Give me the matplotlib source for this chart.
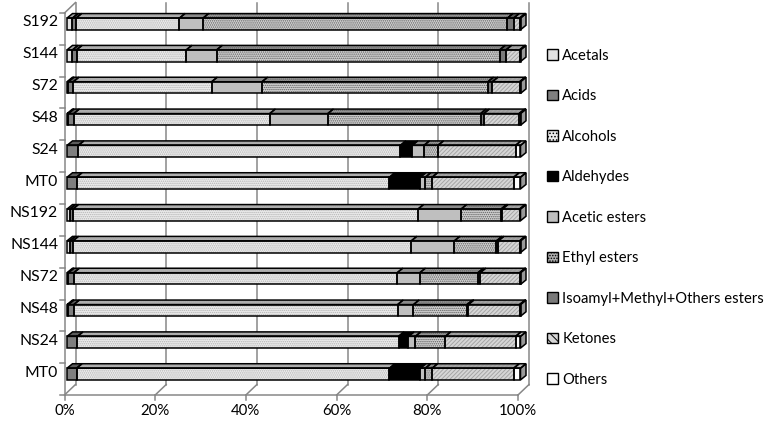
import matplotlib
matplotlib.use("Agg")
import matplotlib.pyplot as plt
from matplotlib.patches import Polygon, Patch
import numpy as np

plt.rcParams['font.family'] = ['Lato', 'DejaVu Sans']
plt.rcParams['hatch.linewidth'] = 0.7

# ---- data (bottom row first) ----
categories = ['MT0', 'NS24', 'NS48', 'NS72', 'NS144', 'NS192',
              'MT0', 'S24', 'S48', 'S72', 'S144', 'S192']
series_names = ['Acetals', 'Acids', 'Alcohols', 'Aldehydes', 'Acetic esters',
                'Ethyl esters', 'Isoamyl+Methyl+Others esters', 'Ketones', 'Others']
acetals      = [0.0, 0.0, 0.3, 0.3, 0.6, 0.6, 0.0, 0.0, 0.3, 0.3, 1.2, 1.2]
acids        = [2.1, 2.3, 1.2, 1.2, 0.7, 0.7, 2.1, 2.5, 1.2, 1.1, 0.9, 0.8]
alcohols     = [69.0, 70.8, 71.4, 71.3, 74.6, 76.1, 69.0, 71.0, 43.2, 30.5, 24.2, 22.8]
aldehydes    = [6.8, 2.2, 0.0, 0.0, 0.0, 0.0, 6.8, 2.6, 0.0, 0.0, 0.0, 0.0]
acetic_est   = [1.1, 1.5, 3.5, 5.0, 9.5, 9.5, 1.1, 2.6, 12.8, 11.1, 6.7, 5.2]
ethyl_est    = [1.5, 6.6, 11.8, 12.8, 9.3, 8.8, 1.5, 3.1, 33.7, 49.8, 62.4, 67.1]
isoamyl_est  = [0.0, 0.0, 0.3, 0.5, 0.4, 0.3, 0.0, 0.0, 0.7, 1.0, 1.4, 1.4]
ketones      = [18.0, 15.5, 11.3, 8.7, 4.7, 3.8, 18.0, 17.1, 7.8, 6.0, 3.0, 1.3]
others       = [1.5, 1.1, 0.2, 0.2, 0.2, 0.2, 1.5, 1.1, 0.3, 0.2, 0.2, 0.2]
xticks = [0, 20, 40, 60, 80, 100]
xticklabels = ['0%', '20%', '40%', '60%', '80%', '100%']

series = [acetals, acids, alcohols, aldehydes, acetic_est,
          ethyl_est, isoamyl_est, ketones, others]

styles = [
    dict(fc='#e2e2e2', hatch=None, hc=None),
    dict(fc='#7f7f7f', hatch=None, hc=None),
    dict(fc='#ececec', hatch='........', hc='#b4b4b4'),
    dict(fc='#000000', hatch=None, hc=None),
    dict(fc='#bfbfbf', hatch=None, hc=None),
    dict(fc='#d2d2d2', hatch='........', hc='#5e5e5e'),
    dict(fc='#7a7a7a', hatch=None, hc=None),
    dict(fc='#d6d6d6', hatch='////////', hc='#a6a6a6'),
    dict(fc='#ffffff', hatch=None, hc=None),
]
legend_hatch = [None, None, '.....', None, None, '......', None, '\\\\\\\\', None]
legend_fc = ['#e2e2e2', '#7f7f7f', '#ececec', '#000000', '#bfbfbf',
             '#b0b0b0', '#7a7a7a', '#d6d6d6', '#ffffff']

W, H = 767, 423
fig = plt.figure(figsize=(W / 100, H / 100), dpi=100)
x0p, x1p = 64.5, 518.0
ytop, ybot = 13.0, 395.0
ax = fig.add_axes([x0p / W, (H - ybot) / H, (x1p - x0p) / W, (ybot - ytop) / H])
ax.set_xlim(0, 100)
ax.set_ylim(-0.5, len(categories) - 0.5)
ax.axis('off')

pxx = (x1p - x0p) / 100.0
pxy = (ybot - ytop) / len(categories)
def dxp(p): return p / pxx
def dyp(p): return p / pxy

DXw, DYw = dxp(11.0), dyp(10.5)
grid_c = '#878787'
ymin, ymax = -0.5, len(categories) - 0.5

# back gridlines / walls
for v, lab in zip(xticks, xticklabels):
    ax.plot([v + DXw, v + DXw], [ymin + DYw, ymax + DYw], color=grid_c, lw=1.1, clip_on=False, zorder=1)
    ax.plot([v, v + DXw], [ymin, ymin + DYw], color=grid_c, lw=1.1, clip_on=False, zorder=1)
    ax.plot([v, v], [ymin, ymin - dyp(5)], color=grid_c, lw=1.1, clip_on=False, zorder=1)
    ax.text(v, ymin - dyp(16), lab, ha='center', va='center', fontsize=10.8)
ax.plot([0, 100], [ymin, ymin], color=grid_c, lw=1.1, clip_on=False, zorder=1)
ax.plot([0, 0], [ymin, ymax], color=grid_c, lw=1.1, clip_on=False, zorder=1)
ax.plot([0, DXw], [ymax, ymax + DYw], color=grid_c, lw=1.1, clip_on=False, zorder=1)
for k in range(len(categories) + 1):
    b = k - 0.5
    ax.plot([0, -dxp(5)], [b, b], color=grid_c, lw=1.1, clip_on=False, zorder=1)

for i, c in enumerate(categories):
    ax.text(-dxp(6.5), i + dyp(6.5), c, ha='right', va='center', fontsize=11.3)

# bars
ox, oy = dxp(2.5), dyp(5.0)
hh = dyp(5.85)
dxb, dyb = dxp(5.5), dyp(4.5)

def darker(col, f):
    r, g, b, a = matplotlib.colors.to_rgba(col)
    return (r * f, g * f, b * f, a)

def draw_poly(verts, st, shade=1.0):
    fc = st['fc'] if shade == 1.0 else darker(st['fc'], shade)
    if st['hatch']:
        ax.add_patch(Polygon(verts, closed=True, facecolor=fc, edgecolor=st['hc'],
                             hatch=st['hatch'], lw=0, clip_on=False, zorder=3))
    else:
        ax.add_patch(Polygon(verts, closed=True, facecolor=fc, edgecolor='none',
                             lw=0, clip_on=False, zorder=3))
    ax.add_patch(Polygon(verts, closed=True, fill=False, edgecolor='black',
                         lw=1.1, clip_on=False, zorder=4))

for i in range(len(categories)):
    yc = i + oy
    left = 0.0
    last = None
    for s, st in zip(series, styles):
        v = s[i]
        if v <= 0:
            continue
        a, b = left + ox, left + v + ox
        top = [(a, yc + hh), (b, yc + hh), (b + dxb, yc + hh + dyb), (a + dxb, yc + hh + dyb)]
        draw_poly(top, st, 0.72)
        front = [(a, yc - hh), (b, yc - hh), (b, yc + hh), (a, yc + hh)]
        draw_poly(front, st)
        left += v
        last = (b, st)
    b, st = last
    side = [(b, yc - hh), (b + dxb, yc - hh + dyb), (b + dxb, yc + hh + dyb), (b, yc + hh)]
    draw_poly(side, st, 0.6)

# legend
handles = [Patch(facecolor=fc, edgecolor='black', hatch=lh, lw=1.0)
           for fc, lh in zip(legend_fc, legend_hatch)]
leg = fig.legend(handles, series_names, loc='center left', bbox_to_anchor=(547 / W, 1 - 217.5 / H),
                 frameon=False, fontsize=10.6, handlelength=0.74, handleheight=0.74,
                 handletextpad=0.3, labelspacing=1.80, borderpad=0, borderaxespad=0)

fig.savefig('out.png', dpi=100)
